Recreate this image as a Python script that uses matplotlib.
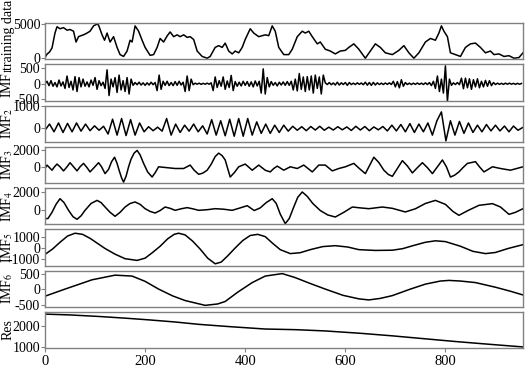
import matplotlib
matplotlib.use("Agg")
import matplotlib.pyplot as plt

plt.rcParams['font.family'] = ['Liberation Serif', 'DejaVu Serif']
plt.rcParams['mathtext.fontset'] = 'stix'
plt.rcParams['axes.unicode_minus'] = False

# ---------------- data ----------------
train_x = [0, 4, 9, 14, 17, 20, 24, 30, 37, 44, 50, 57, 62, 67, 72, 77, 84, 90, 97, 104, 107, 114, 119, 124,
           130, 137, 144, 150, 157, 164, 170, 174, 180, 187, 194, 200, 210, 217, 224, 230, 237, 244, 250, 257,
           264, 270, 277, 284, 290, 297, 304, 314, 324, 330, 340, 347, 354, 360, 367, 374, 380, 387, 394, 400,
           410, 417, 427, 440, 447, 454, 460, 467, 477, 487, 494, 504, 514, 520, 527, 534, 544, 550, 560, 570,
           580, 590, 600, 607, 617, 627, 640, 650, 660, 670, 680, 694, 707, 717, 727, 737, 747, 760, 770, 780,
           787, 792, 797, 804, 810, 820, 830, 840, 850, 860, 870, 880, 890, 897, 907, 917, 927, 937, 947, 955]
train_v = [100, 600, 900, 1500, 2600, 3700, 4600, 4310, 4470, 4100, 4200, 3950, 2370, 3150, 3300, 3420, 3680,
           3950, 4730, 5000, 4840, 3420, 2630, 3680, 2370, 3150, 1580, 530, 260, 1050, 2630, 2370, 4730, 3950,
           2630, 1580, 420, 530, 1580, 2890, 2370, 3260, 3840, 3150, 3420, 3150, 3420, 3050, 3150, 2740, 1050,
           260, 0, 260, 1580, 1840, 1580, 2210, 1050, 630, 1050, 790, 1580, 2740, 4310, 3680, 3150, 3420, 3300,
           4730, 3950, 1580, 530, 530, 1315, 3150, 3950, 3680, 3950, 3150, 2100, 2370, 1315, 1050, 630, 1050,
           1150, 1580, 2100, 1315, 0, 1050, 2100, 1580, 790, 530, 1150, 1840, 790, 0, 790, 2370, 2890, 2630,
           3680, 4730, 3950, 3150, 790, 530, 260, 1580, 2100, 2210, 1580, 790, 1050, 530, 630, 260, 370, 0,
           100, 790]

imf1_step = 4
imf1_v = [0, 80, -60, 100, -80, 40, -100, 120, -70, 60,
          -150, 250, -120, 80, -200, 230, -250, 200, -100, 150,
          -80, 60, -100, 120, -50, 200, -180, 100, -60, 50,
          -150, 450, -380, 150, -100, 200, -280, 280, -200, 100,
          -250, 200, -330, 150, -50, 40, -30, 50, -40, 30,
          -50, 30, -40, 50, -30, 40, -220, 280, -180, 80,
          -50, 80, -60, 40, -60, 70, -50, 80, -40, 50,
          -250, 250, -220, 150, -30, 20, -15, 20, -20, 15,
          -15, 20, -15, 30, -220, 220, -120, 100, -80, 220,
          -180, 90, -120, 270, -220, 70, -80, 50, -70, 80,
          -50, 70, -80, 60, -100, 90, -70, 80, -300, 480,
          -330, 200, -100, 70, -50, 40, -70, 50, -40, 60,
          -50, 70, -50, 80, -200, 150, -230, 330, -180, 220,
          -250, 230, -200, 250, -300, 280, -150, 220, -330, 280,
          30, -25, 40, -30, 25, -40, 50, -40, 30, -25,
          40, -50, 40, -25, 20, -25, 30, -20, 25, -30,
          50, -45, 40, -50, 45, -40, 30, -25, 20, -25,
          25, -20, 30, -25, 80, -100, 70, -130, 130, -80,
          40, -25, 20, -25, 20, -20, 25, -20, 20, -25,
          30, -25, 40, -60, 80, -150, 250, -250, 150, -300,
          580, -560, 150, -50, 30, -25, 40, -30, 180, -160,
          180, -130, 160, -180, 130, -100, 160, -130, 80, -100,
          110, -80, 100, -60, 40, -25, 20, -20, 15, -20,
          20, -15, 20, -15, 15, -20, 15, -15, 10]

imf2_step = 9
imf2_v = [-80, 200, -150, 250, -180, 230, -150, 250, -120, 200, -100, 120,
          -80, 100, -250, 420, -300, 450, -320, 400, -300, 250, -150, 80,
          -100, 60, -120, 450, -300, 200, -180, 150, -120, 200, -150, 120,
          -250, 400, -300, 350, -330, 420, -350, 450, -350, 450, -300, 300,
          -220, 200, -220, 150, -180, 150, -120, 100, -80, 80, -100, 90,
          -70, 100, -80, 60, -70, 80, -60, 70, -90, 100, -70, 90,
          -100, 70, -60, 90, -110, 150, -110, 180, -150, 220, -180, 200,
          -150, 250, -300, 350, 750, -560, 350, -300, 320, -220, 250, -180,
          150, -150, 180, -110, 150, -110, 110, -150, 110, -80, 40]

imf3_x = [0, 4, 9, 14, 19, 24, 30, 37, 44, 50, 57, 64, 70, 77, 84, 90, 98, 107, 113, 120, 127, 133, 139,
          144, 148, 153, 157, 162, 167, 172, 178, 184, 190, 197, 205, 214, 220, 227, 240, 260, 277, 290,
          298, 307, 315, 324, 332, 340, 347, 354, 360, 365, 370, 378, 387, 400, 414, 427, 440, 450, 457,
          464, 477, 490, 504, 517, 534, 547, 560, 574, 587, 600, 617, 628, 640, 648, 657, 667, 677, 686,
          694, 704, 714, 724, 734, 744, 754, 764, 774, 784, 794, 802, 810, 818, 827, 835, 844, 860, 868,
          877, 894, 910, 930, 955]
imf3_v = [-200, 200, -100, -400, 0, 320, 0, -480, 0, 480, 0, -480, 0, 400, -100, -600, -100, 480, 0, -800,
          -300, 600, 1120, 400, -400, -1300, -1800, -1100, 0, 900, 1600, 1920, 1400, 400, -600, -1200, -700,
          0, -80, -200, -200, 200, -400, -880, -750, -400, 300, 1200, 1600, 1300, 800, -200, -1200, -700, 0,
          320, -400, 200, -400, -600, -200, 80, -400, 0, -200, 200, -600, 200, 200, -480, -200, 0, 400,
          -200, -800, 100, 1120, 500, -400, -900, -1120, -200, 720, 100, -720, -100, 480, -100, -800, 0,
          800, 0, -1200, -1000, -600, -100, 400, 600, 0, -600, 0, -200, -400, 0]

imf4_x = [0, 6, 14, 22, 30, 38, 47, 56, 64, 72, 80, 92, 104, 112, 120, 130, 140, 150, 160, 170, 180, 190,
          200, 210, 220, 230, 240, 250, 260, 272, 284, 295, 307, 325, 340, 357, 374, 390, 404, 418, 430,
          442, 454, 462, 470, 480, 488, 497, 505, 514, 524, 535, 550, 565, 580, 597, 614, 630, 647, 660,
          674, 694, 720, 740, 760, 780, 800, 815, 827, 845, 867, 894, 910, 927, 940, 955]
imf4_v = [-1020, -1000, -300, 600, 1240, 800, -75, -800, -1090, -700, -75, 700, 1050, 800, 300, -300, -750,
          -300, 300, 700, 870, 600, 110, -200, -380, -100, 300, 150, -75, 100, 230, 100, -75, 0, 110, 50,
          -75, 200, 450, -100, 200, 800, 1240, 700, -500, -1580, -1000, 300, 1400, 2000, 1500, 700, -100,
          -600, -830, -300, 300, 200, 110, 200, 300, 150, -260, 100, 700, 1050, 600, -200, -640, -100, 490,
          680, 300, -530, -300, 110]

imf5_x = [0, 15, 30, 45, 60, 75, 90, 105, 120, 140, 160, 184, 200, 215, 230, 245, 258, 267, 280, 295, 310,
          325, 340, 352, 365, 380, 395, 410, 425, 440, 455, 470, 490, 510, 530, 555, 580, 605, 627, 660, 694,
          715, 735, 760, 780, 800, 830, 855, 880, 900, 925, 955]
imf5_v = [-570, -100, 500, 1050, 1300, 1200, 850, 400, -50, -550, -950, -1100, -900, -400, 150, 800, 1200,
          1300, 1150, 600, -100, -900, -1400, -1250, -700, 0, 650, 1100, 1200, 1000, 400, -150, -500, -420,
          -150, 120, 200, 80, -150, -220, -200, -60, 200, 500, 630, 560, 150, -300, -500, -400, -50, 290]

imf6_x = [0, 40, 94, 140, 174, 200, 227, 255, 280, 320, 345, 360, 385, 414, 440, 474, 500, 530, 560, 595,
          627, 647, 670, 694, 730, 760, 790, 807, 830, 860, 900, 930, 955]
imf6_v = [-230, 0, 300, 450, 420, 250, 0, -220, -370, -525, -480, -400, -100, 210, 420, 500, 370, 180, 0,
          -200, -315, -350, -300, -210, 0, 160, 260, 280, 260, 210, 60, -70, -190]

res_x = [0, 50, 107, 160, 207, 260, 307, 370, 440, 500, 560, 630, 694, 760, 827, 890, 955]
res_v = [2540, 2500, 2430, 2350, 2270, 2170, 2060, 1950, 1840, 1810, 1750, 1640, 1520, 1380, 1240, 1120, 1000]

labels = ['training data', r'IMF$_{1}$', r'IMF$_{2}$', r'IMF$_{3}$', r'IMF$_{4}$',
          r'IMF$_{5}$', r'IMF$_{6}$', 'Res']
yticks = [[0, 5000], [-500, 0, 500], [0, 1000], [0, 2000], [0, 2000],
          [-1000, 0, 1000], [-500, 0, 500], [1000, 2000]]
ylims = [(-150, 5150), (-540, 630), (-600, 1040), (-1900, 2350), (-1650, 2450),
         (-1550, 1650), (-570, 600), (950, 2650)]
xticks = [0, 200, 400, 600, 800]

series = [
    (train_x, train_v),
    ([i * imf1_step for i in range(len(imf1_v))], imf1_v),
    ([i * imf2_step for i in range(len(imf2_v))], imf2_v),
    (imf3_x, imf3_v),
    (imf4_x, imf4_v),
    (imf5_x, imf5_v),
    (imf6_x, imf6_v),
    (res_x, res_v),
]

W, H = 526, 368
fig = plt.figure(figsize=(W / 100, H / 100), dpi=100)
left, right = 45, 523
top, bottom = 23, 348
gap = 5
n = 8
ph = (bottom - top - gap * (n - 1)) / n
spine_c = '#808080'
for i in range(n):
    y0 = top + i * (ph + gap)
    ax = fig.add_axes([left / W, 1 - (y0 + ph) / H, (right - left) / W, ph / H])
    x, v = series[i]
    ax.plot(x, v, color='black', lw=1.1)
    ax.set_xlim(0, 955)
    ax.set_ylim(*ylims[i])
    ax.set_yticks(yticks[i])
    ax.set_yticklabels([str(t) for t in yticks[i]])
    for s in ax.spines.values():
        s.set_color(spine_c)
        s.set_linewidth(1.0)
    ax.tick_params(axis='y', direction='out', length=3, width=0.8, color=spine_c,
                   labelsize=10, pad=0.5)
    if i < n - 1:
        ax.tick_params(axis='x', bottom=False, labelbottom=False)
    else:
        ax.set_xticks(xticks)
        ax.tick_params(axis='x', direction='out', length=3, width=0.8, color=spine_c,
                       labelsize=10.5, pad=2)
    ax.set_ylabel(labels[i], fontsize=10)
    yc = 0.5
    if i == 0:
        yc = 0.66
    ax.yaxis.set_label_coords(-30 / (right - left), yc)

fig.savefig('out.png', dpi=100)
